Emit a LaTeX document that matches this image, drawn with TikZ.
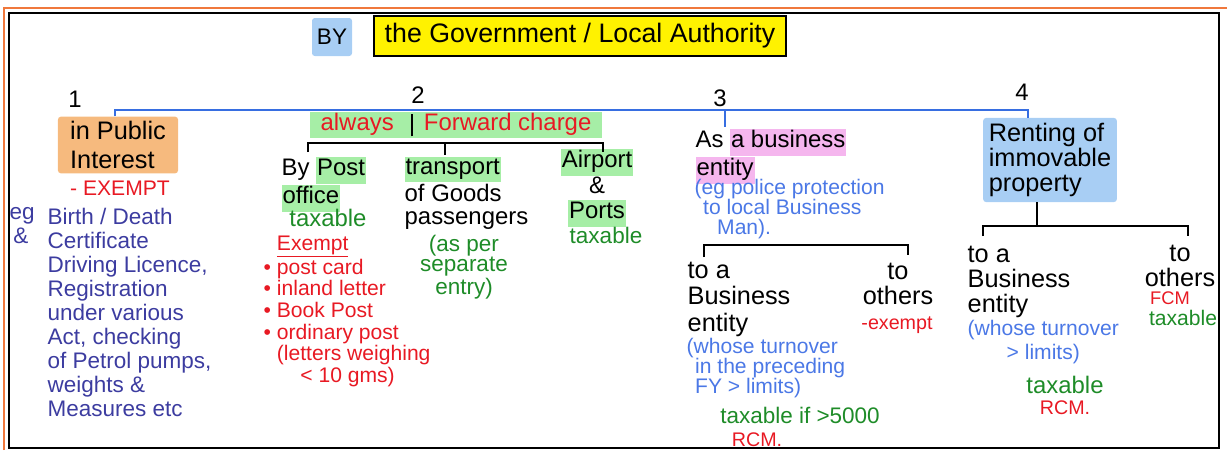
\documentclass[tikz,border=0pt]{standalone}
\usepackage{fontspec}
\setmainfont{Liberation Sans}
\usetikzlibrary{calc,positioning}

\definecolor{hlgreen}{RGB}{166,238,166}
\definecolor{hlpink}{RGB}{245,182,238}
\definecolor{hlblue}{RGB}{168,206,244}
\definecolor{hlorange}{RGB}{246,186,126}
\definecolor{trunkblue}{RGB}{55,110,225}
\definecolor{inkred}{RGB}{232,25,35}
\definecolor{inkgreen}{RGB}{30,140,40}
\definecolor{inknavy}{RGB}{60,60,160}
\definecolor{inkblue}{RGB}{75,120,230}
\definecolor{frameorange}{RGB}{240,120,60}

\setlength{\fboxsep}{0.6pt}
\newcommand{\hlg}[1]{\colorbox{hlgreen}{\strut #1}}
\newcommand{\hlp}[1]{\colorbox{hlpink}{\strut #1}}

\begin{document}
\begin{tikzpicture}[
  x=0.025cm, y=-0.025cm,
  every node/.style={inner sep=1pt},
  ink/.style={font=\fontsize{17}{18}\selectfont, align=left},
  note/.style={font=\fontsize{15}{15}\selectfont, align=left},
  num/.style={font=\fontsize{17}{19}\selectfont},
  hlbox/.style={fill=#1, rounded corners=2pt, inner sep=3pt},
  trunk/.style={draw=trunkblue, line width=1.7pt},
  brace/.style={draw, line width=1.8pt}
]
\useasboundingbox (0,0) rectangle (1227,450);
\draw[frameorange, line width=1.5pt] (4,450) -- (4,8) -- (1227,8);
\draw[line width=1pt] (9,13) rectangle (1219,448);

% heading
\node[hlbox=hlblue, minimum width=1cm, minimum height=0.95cm, font=\fontsize{16}{18}\selectfont] (by) at (332,37) {BY};
\node[fill=yellow, draw, line width=1.2pt, minimum width=10.3cm, minimum height=1cm, font=\fontsize{19}{21}\selectfont] (gov) at (580,36) {the Government / Local Authority};

\node[num] (n1) at (75,99) {1};
\node[num] (n2) at (418,95) {2};
\node[num] (n3) at (720,98) {3};
\node[num] (n4) at (1022,92) {4};

% 1
\node[hlbox=hlorange, ink, font=\fontsize{18}{21}\selectfont, minimum width=3cm, minimum height=1.375cm] (pub) at (118,145) {in Public\\Interest};
\node[note, text=inkred] (ex1) at (120,188) {- EXEMPT};
\node[anchor=north west, font=\fontsize{16}{17.1}\selectfont, align=left, text=inknavy] (eg) at (8,206) {eg\\\,\&};
\node[anchor=north west, font=\fontsize{16}{17.1}\selectfont, align=left, text=inknavy] (eglist) at (46,206)
  {Birth / Death\\Certificate\\Driving Licence,\\Registration\\under various\\Act, checking\\of Petrol pumps,\\weights \&\\Measures etc};

% 2
\node[fill=hlgreen, minimum width=7.3cm, minimum height=0.65cm, font=\fontsize{17}{18}\selectfont] (fwd) at (456,125)
  {\textcolor{inkred}{always}\hspace{12pt}\rule[-4pt]{1.5pt}{16pt}\hspace{8pt}\textcolor{inkred}{Forward charge}};
\node[ink, anchor=north west] (post) at (280,155) {By \hlg{Post}\\\hlg{office}};
\node[note, font=\fontsize{17}{18}\selectfont, text=inkgreen] (tax1) at (328,218) {taxable};
\node[anchor=north west, font=\fontsize{15}{15.4}\selectfont, align=left, text=inkred] (exlist) at (262,234)
  {\phantom{• }\underline{Exempt}\\• post card\\• inland letter\\• Book Post\\• ordinary post\\\phantom{• }(letters weighing\\\phantom{• (le}< 10 gms)};
\node[ink, anchor=north west, font=\fontsize{17}{17}\selectfont] (trans) at (403,155) {\hlg{transport}\\of Goods\\passengers};
\node[note, font=\fontsize{16}{14.5}\selectfont, align=center, text=inkgreen] (asper) at (464,267) {(as per\\separate\\entry)};
\node[ink, align=center] (air) at (597,188) {\hlg{Airport}\\\&\\\hlg{Ports}};
\node[note, font=\fontsize{16}{18}\selectfont, text=inkgreen] (tax2) at (606,235) {taxable};

% 3
\node[ink, anchor=north west] (biz) at (694,127) {As \hlp{a business}\\\hlp{entity}};
\node[note, anchor=north west, text=inkblue, font=\fontsize{15}{14}\selectfont] (police) at (693,178)
  {(eg police protection\\\hspace{6pt}to local Business\\\hspace{16pt}Man).};
\node[ink, anchor=north west, font=\fontsize{18}{19}\selectfont] (tobiz3) at (686,260) {to a\\Business\\entity};
\node[note, anchor=north west, text=inkblue, font=\fontsize{15}{14.2}\selectfont] (whose3) at (685,337)
  {(whose turnover\\\hspace{6pt}in the preceding\\\hspace{6pt}FY > limits)};
\node[note, font=\fontsize{16}{18}\selectfont, text=inkgreen] (tax3) at (800,415) {taxable if >5000};
\node[note, font=\fontsize{14}{16}\selectfont, text=inkred] (rcm3) at (757,440) {RCM.};
\node[ink, font=\fontsize{18}{18}\selectfont, align=center] (oth3) at (898,284) {to\\others};
\node[note, font=\fontsize{14}{16}\selectfont, text=inkred] (exm3) at (897,325) {-exempt};

% 4
\node[hlbox=hlblue, ink, font=\fontsize{18}{17.5}\selectfont, inner sep=4pt] (rent) at (1050,160) {Renting of\\immovable\\property};
\node[ink, anchor=north west, font=\fontsize{18}{18}\selectfont] (tobiz4) at (966,244) {to a\\Business\\entity};
\node[note, anchor=north west, align=center, text=inkblue, font=\fontsize{15}{17}\selectfont] (whose4) at (966,319)
  {(whose turnover\\> limits)};
\node[note, font=\fontsize{17}{18}\selectfont, text=inkgreen] (tax4) at (1065,385) {taxable};
\node[note, font=\fontsize{14}{16}\selectfont, text=inkred] (rcm4) at (1065,408) {RCM.};
\node[ink, font=\fontsize{18}{18}\selectfont, align=center] (oth4) at (1180,266) {to\\others};
\node[note, font=\fontsize{13}{15}\selectfont, text=inkred] (fcm) at (1170,298) {FCM};
\node[note, font=\fontsize{15}{16}\selectfont, text=inkgreen] (tax5) at (1183,318) {taxable};

% connectors
\coordinate (j1) at (115,110);
\coordinate (j3) at (725,110);
\coordinate (j4) at (1028,110);
\draw[trunk] (pub.north -| j1) -- (j1) -- (j4) -- (rent.north -| j4);
\draw[trunk] (j3) -- (biz.north -| j3);

\coordinate (k2l) at (308,152);
\coordinate (k2m) at (445,143);
\coordinate (k2r) at (603,152);
\draw[brace] (k2l) -- ++(0,-9) -| (k2r);
\draw[brace] (k2m) -- (k2m |- trans.north);

\coordinate (k3l) at (704,257);
\coordinate (k3r) at (908,255);
\draw[brace] (k3l) -- ++(0,-12) -| (k3r);

\coordinate (k4m) at (1037,226);
\coordinate (k4l) at (983,236);
\coordinate (k4r) at (1188,236);
\draw[brace] (rent.south -| k4m) -- (k4m);
\draw[brace] (k4l) -- ++(0,-10) -| (k4r);
\end{tikzpicture}
\end{document}
